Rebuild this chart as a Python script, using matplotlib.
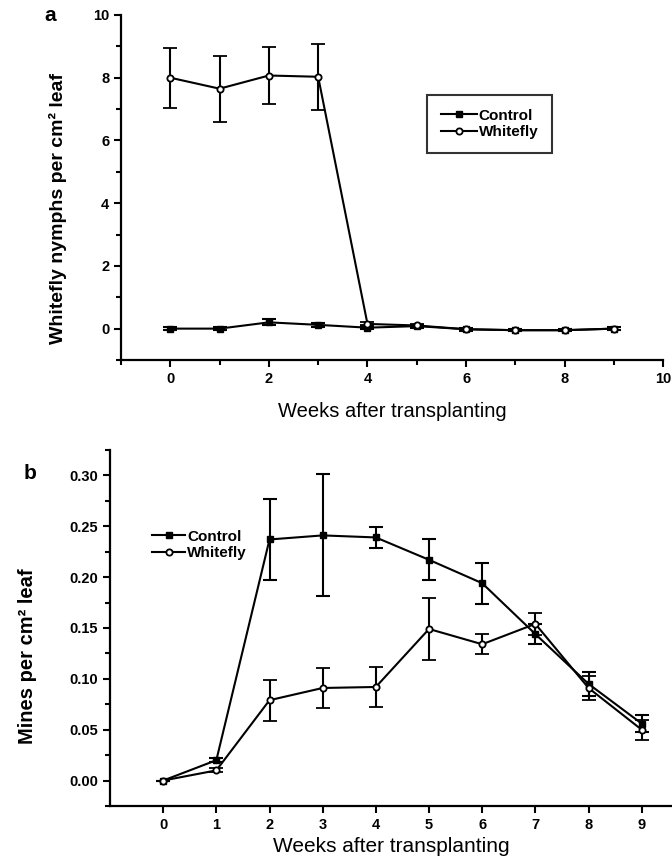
import numpy as np
import matplotlib
matplotlib.use("Agg")
import matplotlib.pyplot as plt
from matplotlib.ticker import MultipleLocator
from matplotlib.lines import Line2D

plt.rcParams['font.family'] = ['Liberation Sans', 'DejaVu Sans']
plt.rcParams['font.weight'] = 'bold'

# panel a: whitefly nymphs
weeks_a = [0, 1, 2, 3, 4, 5, 6, 7, 8, 9]
ctrl_a = [0.0, 0.0, 0.2, 0.12, 0.03, 0.08, -0.02, -0.05, -0.05, 0.0]
ctrl_a_err = [0.05, 0.04, 0.1, 0.07, 0.05, 0.05, 0.04, 0.03, 0.03, 0.04]
wf_a = [8.0, 7.65, 8.07, 8.03, 0.15, 0.1, -0.02, -0.05, -0.05, 0.0]
wf_a_err = [0.96, 1.05, 0.9, 1.05, 0.05, 0.06, 0.04, 0.03, 0.03, 0.04]

# panel b: mines
weeks_b = [0, 1, 2, 3, 4, 5, 6, 7, 8, 9]
ctrl_b = [0.0, 0.02, 0.237, 0.241, 0.239, 0.217, 0.194, 0.144, 0.095, 0.056]
ctrl_b_err = [0.0, 0.002, 0.04, 0.06, 0.01, 0.02, 0.02, 0.01, 0.012, 0.008]
wf_b = [0.0, 0.01, 0.079, 0.091, 0.092, 0.149, 0.134, 0.154, 0.091, 0.050]
wf_b_err = [0.0, 0.002, 0.02, 0.02, 0.02, 0.03, 0.01, 0.011, 0.012, 0.01]

fig = plt.figure(figsize=(6.72, 8.61), dpi=100)

def style_axes(ax):
    for s in ['top', 'right']:
        ax.spines[s].set_visible(False)
    for s in ['left', 'bottom']:
        ax.spines[s].set_linewidth(1.6)
    ax.tick_params(which='major', direction='out', length=5, width=1.5, labelsize=10.5)
    ax.tick_params(which='minor', direction='out', length=3.5, width=1.5)
    for lab in ax.get_xticklabels() + ax.get_yticklabels():
        lab.set_fontweight('bold')

handles = [
    Line2D([], [], color='black', lw=1.5, marker='s', ms=4, mfc='black'),
    Line2D([], [], color='black', lw=1.5, marker='o', ms=4.5, mfc='white', mew=1.3),
]
labels = ['Control', 'Whitefly']

# ---- panel a
ax1 = fig.add_axes([0.180, 0.5819, 0.807, 0.4007])
ax1.errorbar(weeks_a, ctrl_a, yerr=ctrl_a_err, color='black', marker='s', ms=4,
             mfc='black', lw=1.5, capsize=5, capthick=1.5, elinewidth=1.5)
ax1.errorbar(weeks_a, wf_a, yerr=wf_a_err, color='black', marker='o', ms=4.5,
             mfc='white', mew=1.3, lw=1.5, capsize=5, capthick=1.5, elinewidth=1.5)
ax1.set_xlim(-1, 10)
ax1.set_ylim(-1, 10)
ax1.xaxis.set_minor_locator(MultipleLocator(1))
ax1.yaxis.set_minor_locator(MultipleLocator(1))
ax1.set_xticks([0, 2, 4, 6, 8, 10])
ax1.set_yticks([0, 2, 4, 6, 8, 10])
style_axes(ax1)
ax1.set_xlabel('Weeks after transplanting', fontsize=14.5, labelpad=12, fontweight='normal')
ax1.set_ylabel('Whitefly nymphs per cm² leaf', fontsize=14, labelpad=12, fontweight='bold')
ax1.yaxis.set_label_coords(-0.10, 0.44)
leg1 = ax1.legend(handles, labels, loc='upper left', bbox_to_anchor=(0.55, 0.79),
                  frameon=True, fancybox=False, edgecolor='black', fontsize=11,
                  handlelength=2.4, handletextpad=0.1, borderpad=0.9, labelspacing=0.15)
leg1.get_frame().set_linewidth(1.5)
fig.text(0.075, 0.982, 'a', fontsize=15, fontweight='bold', va='center', ha='center')

# ---- panel b
ax2 = fig.add_axes([0.1637, 0.0639, 0.8363, 0.4135])
ax2.errorbar(weeks_b, ctrl_b, yerr=ctrl_b_err, color='black', marker='s', ms=4.5,
             mfc='black', lw=1.5, capsize=5, capthick=1.5, elinewidth=1.5)
ax2.errorbar(weeks_b, wf_b, yerr=wf_b_err, color='black', marker='o', ms=4.5,
             mfc='white', mew=1.3, lw=1.5, capsize=5, capthick=1.5, elinewidth=1.5)
ax2.set_xlim(-1, 9.57)
ax2.set_ylim(-0.025, 0.325)
ax2.set_xticks(weeks_b)
ax2.yaxis.set_minor_locator(MultipleLocator(0.025))
ax2.set_yticks([0.0, 0.05, 0.10, 0.15, 0.20, 0.25, 0.30])
ax2.set_yticklabels(['0.00', '0.05', '0.10', '0.15', '0.20', '0.25', '0.30'])
style_axes(ax2)
ax2.set_xlabel('Weeks after transplanting', fontsize=15, labelpad=4, fontweight='normal')
ax2.set_ylabel('Mines per cm² leaf', fontsize=14.5, labelpad=12, fontweight='bold')
ax2.yaxis.set_label_coords(-0.13, 0.42)
ax2.legend(handles, labels, loc='upper left', bbox_to_anchor=(0.05, 0.815), frameon=False,
           fontsize=11, handlelength=2.2, handletextpad=0.1, labelspacing=0.15)
fig.text(0.045, 0.45, 'b', fontsize=15, fontweight='bold', va='center', ha='center')

fig.savefig('out.png', dpi=100)
